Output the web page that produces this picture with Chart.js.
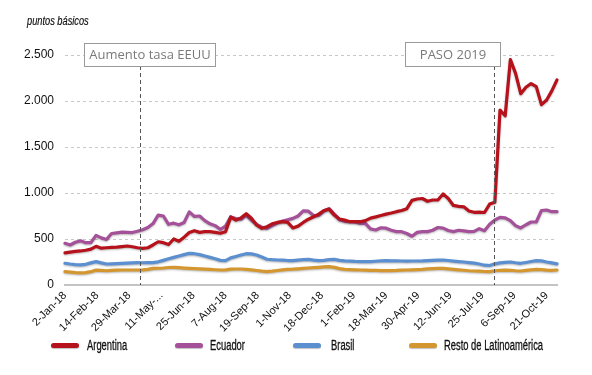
<!DOCTYPE html>
<html>
<head>
<meta charset="utf-8">
<script src="https://cdn.jsdelivr.net/npm/chart.js@4"></script>
<style>
  html, body { margin:0; padding:0; background:#fff; }
  #wrap { position:relative; width:592px; height:375px; overflow:hidden; }
  #c { position:absolute; left:0; top:0; }
  #ytitle { position:absolute; left:27px; top:14px; font:italic 12.5px "Liberation Sans",Arial,sans-serif; color:#111; transform:scaleX(0.74); transform-origin:0 0; white-space:nowrap; -webkit-text-stroke:0.2px #111; }
  .lg { position:absolute; top:337px; height:16px; font:14px "Liberation Sans",Arial,sans-serif; color:#111; line-height:16px; white-space:nowrap; }
  .sw { position:absolute; top:5.5px; width:28px; height:5px; border-radius:3px; box-shadow:0 1px 1px rgba(0,0,0,0.25); }
  .lt { position:absolute; top:0; transform:scaleX(0.67); transform-origin:0 0; -webkit-text-stroke:0.3px #111; }
</style>
</head>
<body>
<div id="wrap">
  <canvas id="c" width="592" height="375"></canvas>
  <div id="ytitle">puntos básicos</div>
  <div id="legend"></div>
</div>
<script>
// ---- data (business-day index sampled every 5 days from 2-Jan-18) ----
const seriesNames = ['Argentina', 'Ecuador', 'Brasil', 'Resto de Latinoamérica'];
const argentina = [350,358,365,370,378,390,420,400,405,408,412,418,424,416,405,399,405,435,470,460,440,500,475,520,570,590,572,580,580,572,562,580,740,705,730,775,725,652,616,634,665,680,688,680,620,640,680,715,742,770,810,825,760,718,705,688,688,688,700,727,740,755,770,782,797,810,830,920,935,940,910,924,924,990,940,865,855,850,805,790,792,788,880,900,1900,1840,2450,2300,2080,2150,2190,2156,1960,2011,2110,2230];
const ecuador = [453,435,465,480,460,460,540,512,495,560,567,575,572,570,585,600,625,668,760,750,660,672,655,680,795,745,750,700,665,645,605,640,740,722,716,758,705,660,628,616,645,675,695,710,724,750,805,802,755,757,805,830,770,710,692,688,685,670,670,610,598,622,618,595,580,580,560,530,572,580,580,595,625,618,592,580,595,588,580,582,612,590,660,707,735,730,700,645,620,655,685,685,810,815,797,797];
const brasil = [236,228,222,218,225,240,254,240,228,230,233,236,238,241,243,242,243,243,252,268,285,300,315,330,344,340,330,315,300,285,268,264,295,310,326,340,338,326,305,280,275,272,270,266,264,270,276,278,270,264,268,275,278,268,262,260,256,254,254,254,258,262,264,263,262,261,260,261,261,262,265,268,270,272,266,260,255,250,244,238,228,215,212,230,240,245,250,242,236,245,255,265,262,250,240,230];
const resto = [145,140,135,132,135,145,162,158,155,158,162,163,163,163,163,165,170,180,182,185,190,192,188,184,181,178,175,172,170,166,163,165,172,174,174,170,165,158,150,145,150,158,165,170,172,176,181,185,188,192,196,199,192,178,170,168,165,163,162,160,158,156,156,157,158,162,163,165,168,170,175,178,181,180,175,170,165,160,155,152,150,147,145,155,160,162,160,155,152,158,165,170,168,162,160,163];
const sampleStep = 5;
const dayIdx = argentina.map((_, k) => k * sampleStep);
const xTickIdx = [0,31,62,93,124,155,186,217,248,279,310,341,372,403,434,465];
const xTickLabels = ['2-Jan-18','14-Feb-18','29-Mar-18','11-May-...','25-Jun-18','7-Aug-18','19-Sep-18','1-Nov-18','18-Dec-18','1-Feb-19','18-Mar-19','30-Apr-19','12-Jun-19','25-Jul-19','6-Sep-19','21-Oct-19'];
const yTicks = [0,500,1000,1500,2000,2500];
const eventIdx = [72, 414];
const eventLabels = ['Aumento tasa EEUU', 'PASO 2019'];

const colors = ['#B5121B', '#A5519A', '#5B8FCF', '#D4972F'];
const allValues = [argentina, ecuador, brasil, resto];

// ---- legend (HTML) ----
const lgPos = [[51, 87], [175, 210], [293, 331], [409, 444]];
const legend = document.getElementById('legend');
seriesNames.forEach((n, i) => {
  const d = document.createElement('div');
  d.className = 'lg';
  d.style.left = lgPos[i][0] + 'px';
  d.innerHTML = '<span class="sw" style="left:0;background:' + colors[i] + '"></span>' +
                '<span class="lt" style="left:' + (lgPos[i][1] - lgPos[i][0]) + 'px">' + n + '</span>';
  legend.appendChild(d);
});

function fmt(v) { return String(v).replace(/\B(?=(\d{3})+(?!\d))/g, '.'); }

const shadowPlugin = {
  id: 'shadow',
  beforeDatasetDraw(chart) {
    const c = chart.ctx; c.save();
    c.shadowColor = 'rgba(0,0,0,0.28)'; c.shadowBlur = 2; c.shadowOffsetY = 1;
  },
  afterDatasetDraw(chart) { chart.ctx.restore(); }
};

const boxGeom = [ {dx:-57, w:131, top:43, h:23}, {dx:-90, w:95, top:42, h:24} ];
const eventPlugin = {
  id: 'events',
  afterDatasetsDraw(chart) {
    const c = chart.ctx, xs = chart.scales.x, area = chart.chartArea;
    eventIdx.forEach((ev, i) => {
      const lx = Math.round(xs.getPixelForValue(ev)) + 0.5;
      const g = boxGeom[i];
      c.save();
      c.strokeStyle = '#555'; c.lineWidth = 1; c.setLineDash([4, 3]);
      c.beginPath(); c.moveTo(lx, g.top + g.h); c.lineTo(lx, area.bottom); c.stroke();
      c.setLineDash([]);
      const bx = Math.round(lx + g.dx) + 0.5;
      c.fillStyle = '#fff'; c.fillRect(bx, g.top + 0.5, g.w, g.h);
      c.strokeStyle = '#9a9a9a'; c.strokeRect(bx, g.top + 0.5, g.w, g.h);
      c.fillStyle = '#7a7a7a'; c.font = '13px "Open Sans", sans-serif';
      c.textAlign = 'center'; c.textBaseline = 'middle';
      c.fillText(eventLabels[i], bx + g.w / 2, g.top + g.h / 2 + 1);
      c.restore();
    });
  }
};

new Chart(document.getElementById('c'), {
  type: 'line',
  data: {
    datasets: seriesNames.map((n, i) => ({
      label: n,
      data: allValues[i].map((v, k) => ({ x: dayIdx[k], y: v })),
      borderColor: colors[i],
      backgroundColor: colors[i],
      borderWidth: 3.2,
      pointRadius: 0,
      tension: 0,
      clip: false,
      borderJoinStyle: 'round',
      borderCapStyle: 'round',
      order: i
    }))
  },
  options: {
    responsive: false,
    animation: false,
    layout: { padding: { top: 55, right: 35, bottom: 40, left: 0 } },
    plugins: { legend: { display: false }, tooltip: { enabled: false }, title: { display: false } },
    scales: {
      x: {
        type: 'linear', min: 0, max: 475,
        afterBuildTicks: (ax) => { ax.ticks = xTickIdx.map(v => ({ value: v })); },
        afterFit: (s) => { s.height = 50; },
        ticks: {
          autoSkip: false, maxRotation: 45, minRotation: 45, padding: 4,
          color: '#111',
          font: { family: '"Liberation Sans",Arial,sans-serif', size: 11 },
          callback: (v) => { const j = xTickIdx.indexOf(v); return j >= 0 ? xTickLabels[j] : ''; }
        },
        grid: { display: false, drawTicks: false },
        border: { display: true, color: '#c4c4c4', width: 2 }
      },
      y: {
        min: 0, max: 2500,
        afterBuildTicks: (ax) => { ax.ticks = yTicks.map(v => ({ value: v })); },
        afterFit: (s) => { s.width = 65; },
        ticks: {
          padding: 11, color: '#111',
          font: { family: '"Liberation Sans",Arial,sans-serif', size: 12 },
          callback: (v) => fmt(v)
        },
        grid: {
          drawTicks: false,
          color: (ctx) => ctx.tick && ctx.tick.value === 0 ? 'rgba(0,0,0,0)' : '#c8c8c8',
          lineWidth: 1
        },
        border: { display: false, dash: [3, 3] }
      }
    }
  },
  plugins: [shadowPlugin, eventPlugin]
});
</script>
</body>
</html>
